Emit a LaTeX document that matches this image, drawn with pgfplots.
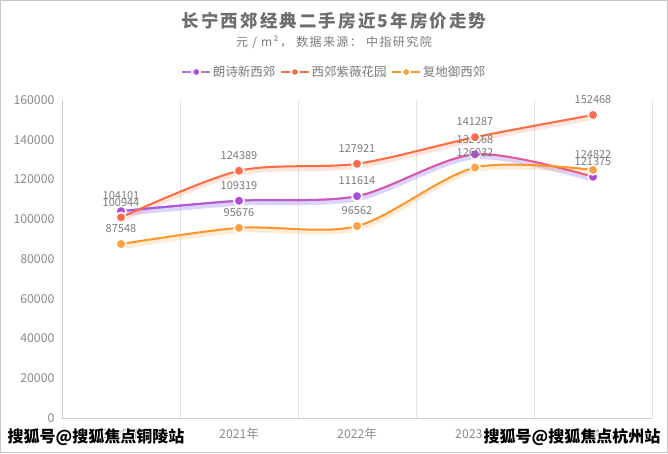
\documentclass[border=0pt]{standalone}
\usepackage{fontspec}
\setmainfont{Noto Sans CJK SC}
\newfontfamily\titlefont[LetterSpace=12]{Noto Sans CJK SC}
\newfontfamily\subfont[LetterSpace=12]{Noto Sans CJK SC}
\usepackage{pgfplots}
\usepackage{pgfplotstable}
\usetikzlibrary{fadings}
\pgfplotsset{compat=1.18}

\definecolor{titlegray}{HTML}{6E6E6E}
\definecolor{subgray}{HTML}{7A7A7A}
\definecolor{tickgray}{HTML}{8A8A8A}
\definecolor{labgray}{HTML}{7A7A7A}
\definecolor{axisgray}{HTML}{CCCCCC}
\definecolor{gridgray}{HTML}{E3E3E3}
\definecolor{cpink}{HTML}{F4587A}
\definecolor{cpurple}{HTML}{9C5CF6}
\definecolor{cpurplemark}{HTML}{B04AD8}
\definecolor{cpurpleglow}{HTML}{9A80FF}
\definecolor{cred}{HTML}{FF6A3E}
\definecolor{credmark}{HTML}{FF6B4C}
\definecolor{corange}{HTML}{FF9428}
\definecolor{corangemark}{HTML}{FFA040}

\pgfplotstableread{
x y lab
0 104101 104101
1 109319 109319
2 111614 111614
3 132668 132668
4 121375 121375
}\langshi
\pgfplotstableread{
x y lab
0 100944 100944
1 124389 124389
2 127921 127921
3 141287 141287
4 152468 152468
}\ziwei
\pgfplotstableread{
x y lab
0 87548 87548
1 95676 95676
2 96562 96562
3 126032 126032
4 124822 124822
}\fudi

\begin{document}
\begin{tikzpicture}[x=1pt,y=1pt]
\useasboundingbox (0pt,0pt) rectangle (668pt,453pt);
\draw[gray!45, line width=1pt] (0.5pt,0.5pt) rectangle (667.5pt,452.5pt);
\node[font=\titlefont\bfseries\fontsize{17.5}{20}\selectfont, text=titlegray] at (334pt,432pt) {长宁西郊经典二手房近5年房价走势};
\node[font=\subfont\fontsize{12}{14}\selectfont, text=subgray] at (334pt,411pt) {元 / m²， 数据来源： 中指研究院};
\begin{axis}[
  at={(62pt,35pt)}, anchor=south west,
  scale only axis, width=590pt, height=318pt,
  xmin=-0.5, xmax=4.5, ymin=0, ymax=160000,
  axis x line*=bottom, axis y line*=left,
  axis line style={draw=axisgray, line width=0.8pt},
  xtick={0,1,2,3,4},
  xticklabels={2020年,2021年,2022年,2023年,2024年},
  minor xtick={0.5,1.5,2.5,3.5,4.5},
  xminorgrids, minor grid style={draw=gridgray, line width=0.8pt},
  major tick length=0pt, minor tick length=0pt,
  ytick={0,20000,40000,60000,80000,100000,120000,140000,160000},
  scaled y ticks=false,
  /pgf/number format/1000 sep={},
  /pgf/number format/fixed,
  /pgf/number format/precision=0,
  /pgf/number format/assume math mode=true,
  tick label style={font=\fontsize{12.3}{14}\selectfont, text=tickgray},
  xticklabel style={yshift=-7pt},
  yticklabel style={xshift=-4pt},
  clip=false,
  legend columns=3,
  legend style={at={(axis description cs:0.461,1.088)}, anchor=center, draw=none, fill=none,
    font=\fontsize{12.5}{14}\selectfont, text=subgray,
    /tikz/every even column/.append style={column sep=3pt},
    inner sep=0pt, nodes={inner sep=1.5pt}},
  nodes near coords style={font=\fontsize{11}{13}\selectfont, text=labgray, yshift=7pt},
]
% glows / shadows
\addplot[forget plot, smooth, tension=0.5, draw=cpurpleglow, opacity=0.35, line width=5pt, yshift=-2.5pt] table[x=x,y=y]{\langshi};
\addplot[forget plot, smooth, tension=0.5, draw=cred, opacity=0.18, line width=5pt, yshift=-2.5pt] table[x=x,y=y]{\ziwei};
\addplot[forget plot, smooth, tension=0.5, draw=corange, opacity=0.18, line width=5pt, yshift=-2.5pt] table[x=x,y=y]{\fudi};
% purple (pink-to-violet line)
\addplot[forget plot, smooth, tension=0.5, draw=cpink, line width=2pt, no markers] table[x=x,y=y]{\langshi};
\addplot[forget plot, smooth, tension=0.5, draw=cpurple, line width=2pt, no markers,
  path fading=east, fit fading=true] table[x=x,y=y]{\langshi};
\addplot[forget plot, only marks,
  mark=*, mark size=5pt, mark options={fill=cpurplemark, draw=white, line width=1.6pt},
  nodes near coords, point meta=explicit symbolic] table[x=x,y=y,meta=lab]{\langshi};
% red
\addplot[forget plot, smooth, tension=0.5, draw=cred, line width=2pt,
  mark=*, mark size=5pt, mark options={fill=credmark, draw=white, line width=1.6pt},
  nodes near coords, point meta=explicit symbolic] table[x=x,y=y,meta=lab]{\ziwei};
% orange
\addplot[forget plot, smooth, tension=0.5, draw=corange, line width=2pt,
  mark=*, mark size=5pt, mark options={fill=corangemark, draw=white, line width=1.6pt},
  nodes near coords, point meta=explicit symbolic] table[x=x,y=y,meta=lab]{\fudi};

\addlegendimage{legend image code/.code={
  \draw[cpurpleglow!70!cpink, line width=2.2pt] (0pt,0pt) -- (9pt,0pt);
  \draw[cpurpleglow!70!cpink, line width=2.2pt] (19pt,0pt) -- (28pt,0pt);
  \fill[cpurplemark] (14pt,0pt) circle (2.6pt);}}
\addlegendentry{朗诗新西郊}
\addlegendimage{legend image code/.code={
  \draw[cred, line width=2.2pt] (0pt,0pt) -- (9pt,0pt);
  \draw[cred, line width=2.2pt] (19pt,0pt) -- (28pt,0pt);
  \fill[credmark] (14pt,0pt) circle (2.6pt);}}
\addlegendentry{西郊紫薇花园}
\addlegendimage{legend image code/.code={
  \draw[corange, line width=2.2pt] (0pt,0pt) -- (9pt,0pt);
  \draw[corange, line width=2.2pt] (19pt,0pt) -- (28pt,0pt);
  \fill[corangemark] (14pt,0pt) circle (2.6pt);}}
\addlegendentry{复地御西郊}
\end{axis}
% watermarks
\foreach \dx/\dy in {1/0,-1/0,0/1,0/-1,0.8/0.8,-0.8/0.8,0.8/-0.8,-0.8/-0.8}{
  \node[font=\bfseries\fontsize{16}{18}\selectfont, text=white, inner sep=0pt] at (96pt+\dx pt,16pt+\dy pt) {搜狐号@搜狐焦点铜陵站};
  \node[font=\bfseries\fontsize{16}{18}\selectfont, text=white, inner sep=0pt] at (572pt+\dx pt,16pt+\dy pt) {搜狐号@搜狐焦点杭州站};
}
\node[font=\bfseries\fontsize{16}{18}\selectfont, text=black, inner sep=0pt] at (96pt,16pt) {搜狐号@搜狐焦点铜陵站};
\node[font=\bfseries\fontsize{16}{18}\selectfont, text=black, inner sep=0pt] at (572pt,16pt) {搜狐号@搜狐焦点杭州站};
\end{tikzpicture}
\end{document}
